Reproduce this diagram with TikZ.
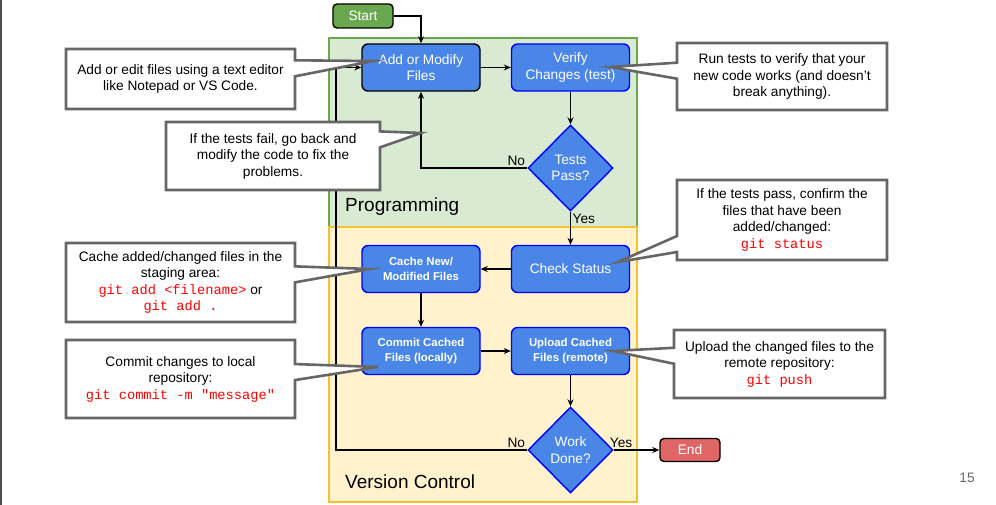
\documentclass[tikz,border=0pt]{standalone}
\usepackage{fontspec}
\setmainfont{Liberation Sans}
\setmonofont{Liberation Mono}
\usepackage{xcolor}
\usepackage{tikz}
\usetikzlibrary{arrows.meta}
\usetikzlibrary{shapes.geometric, shapes.callouts}
\usetikzlibrary{positioning}
\definecolor{flowblue}{HTML}{4A86E8}
\definecolor{progfill}{HTML}{D9EAD3}
\definecolor{progline}{HTML}{6AA84F}
\definecolor{vcfill}{HTML}{FFF2CC}
\definecolor{vcline}{HTML}{F1C232}
\definecolor{endred}{HTML}{E06666}
\definecolor{tipgray}{HTML}{666666}
\definecolor{gitred}{HTML}{FF0000}
\newcommand{\normtxt}{\fontsize{13.7}{16.5}\selectfont}
\newcommand{\smalltxt}{\fontsize{11.4}{15}\selectfont\bfseries}
\newcommand{\gitcmd}[1]{{\color{gitred}\texttt{#1}}}

\tikzset{
  flow/.style={rectangle, rounded corners=6pt, fill=flowblue, draw=blue,
    line width=1.4pt, text=white, minimum width=118pt, minimum height=47pt,
    align=center, font=\normtxt},
  choice/.style={diamond, fill=flowblue, draw=blue, line width=1.4pt,
    text=white, minimum width=85pt, minimum height=86pt, inner sep=0pt,
    align=center, font=\normtxt},
  term/.style={rectangle, rounded corners=4pt, draw=black, line width=1.4pt,
    text=white, minimum width=60pt, minimum height=24pt, font=\normtxt},
  tipbox/.style={rectangle callout, fill=white, draw=tipgray, line width=2.6pt,
    callout pointer width=16pt, align=center, font=\normtxt},
  arr/.style={-{Stealth[length=7pt,width=6pt]}, line width=1.5pt},
  lbl/.style={font=\normtxt, inner sep=2pt},
  region/.style={anchor=base west, inner sep=0pt, font=\fontsize{19}{22}\selectfont}
}

\begin{document}
\begin{tikzpicture}[x=1pt, y=-1pt]
\useasboundingbox (0,0) rectangle (996,505);
\draw[line width=1.5pt, black!70] (0.75,0) -- (0.75,505);

% regions
\draw[fill=progfill, draw=progline, line width=1.5pt] (329,38) rectangle (637,227);
\draw[fill=vcfill, draw=vcline, line width=1.5pt] (329,227) rectangle (637,502);
\node[region] (prog) at (345,212) {Programming};
\node[region] (vc) at (345,488) {Version Control};

% flow chart
\node[term, fill=progline] (start) at (363,16) {Start};
\node[flow, draw=black] (add) at (421,67.5) {Add or Modify\\Files};
\node[flow] (verify) at (570.5,67.5) {Verify\\Changes (test)};
\node[choice] (tests) at (570.5,168) {Tests\\Pass?};
\node[flow] (check) at (570.5,269) {Check Status};
\node[flow, font=\smalltxt] (cache) at (421,269) {Cache New/\\Modified Files};
\node[flow, font=\smalltxt] (commit) at (421,351) {Commit Cached\\Files (locally)};
\node[flow, font=\smalltxt] (upload) at (570.5,351) {Upload Cached\\Files (remote)};
\node[choice] (work) at (570.5,450) {Work\\Done?};
\node[term, fill=endred, minimum height=23pt] (end) at (690,450) {End};
\coordinate (loopend) at (336,450);

\draw[arr] (start) -| (add);
\foreach \a/\b in {add/verify, verify/tests, tests/check, check/cache,
    cache/commit, commit/upload, upload/work, work/end}
    \draw[arr] (\a) -- (\b);
\draw[arr] (tests.west) -| (add.south);
\draw[arr] (work.west) -- (loopend) |- (add.west);

\node[lbl, above left] at (tests.west) {No};
\node[lbl, below right] at (tests.south) {Yes};
\node[lbl, above left] at (work.west) {No};
\node[lbl, above right, xshift=-6pt] at (work.east) {Yes};

% notes
\node[tipbox, minimum width=229pt, minimum height=60pt,
  callout absolute pointer={(373,61)}] (tipadd) at (180.5,79)
  {Add or edit files using a text editor\\like Notepad or VS Code.};
\node[tipbox, minimum width=214pt, minimum height=68pt,
  callout absolute pointer={(421,133)}] (tipfail) at (273,156)
  {If the tests fail, go back and\\modify the code to fix the\\problems.};
\node[tipbox, minimum width=210pt, minimum height=67pt,
  callout absolute pointer={(610,67)}] (tiptest) at (782,76.5)
  {Run tests to verify that your\\new code works (and doesn’t\\break anything).};
\node[tipbox, minimum width=210pt, minimum height=80pt,
  callout absolute pointer={(618,262)}] (tipstatus) at (782,220)
  {If the tests pass, confirm the\\files that have been\\added/changed:\\\gitcmd{git status}};
\node[tipbox, minimum width=229pt, minimum height=79pt,
  callout absolute pointer={(370,269)}] (tipcache) at (180.5,282.5)
  {Cache added/changed files in the\\staging area:\\\gitcmd{git add <filename>} or\\\gitcmd{git add .}};
\node[tipbox, minimum width=229pt, minimum height=78pt,
  callout absolute pointer={(378,367)}] (tipcommit) at (180.5,379)
  {Commit changes to local\\repository:\\\gitcmd{git commit -m "message"}};
\node[tipbox, minimum width=211pt, minimum height=68pt,
  callout absolute pointer={(613,351)}] (tippush) at (779.5,364)
  {Upload the changed files to the\\remote repository:\\\gitcmd{git push}};

\node[font=\normtxt, text=tipgray] (page) at (967,478) {15};
\end{tikzpicture}
\end{document}
